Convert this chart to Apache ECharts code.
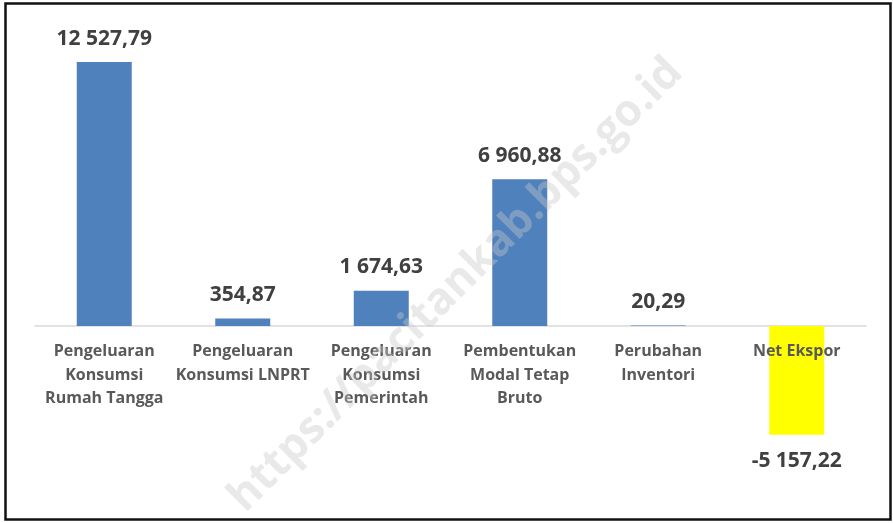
<!DOCTYPE html>
<html>
<head>
<meta charset="utf-8">
<script src="https://cdn.jsdelivr.net/npm/echarts@6/dist/echarts.min.js"></script>
<style>
  html, body { margin: 0; padding: 0; background: #fff; }
  #chart { width: 893px; height: 523px; }
</style>
</head>
<body>
<div id="chart"></div>
<script>
var categories = [
  "Pengeluaran\nKonsumsi\nRumah Tangga",
  "Pengeluaran\nKonsumsi LNPRT",
  "Pengeluaran\nKonsumsi\nPemerintah",
  "Pembentukan\nModal Tetap\nBruto",
  "Perubahan\nInventori",
  "Net Ekspor"
];
var values = [12527.79, 354.87, 1674.63, 6960.88, 20.29, -5157.22];
var barColors = ["#4f81bd", "#4f81bd", "#4f81bd", "#4f81bd", "#4f81bd", "#ffff00"];

// 12 527,79 style
function fmt(v) {
  var neg = v < 0;
  var parts = Math.abs(v).toFixed(2).split(".");
  var intPart = parts[0].replace(/\B(?=(\d{3})+(?!\d))/g, " ");
  return (neg ? "-" : "") + intPart + "," + parts[1];
}

var myChart = echarts.init(document.getElementById("chart"));
var font = "'Open Sans', 'Liberation Sans', sans-serif";

var option = {
  animation: false,
  grid: [
    { left: 35, right: 27, top: 31, bottom: 70.6, outerBoundsMode: "none" },
    // label grid: its bottom edge sits on the zero line
    { left: 35, right: 27, top: 31, bottom: 197, outerBoundsMode: "none" }
  ],
  xAxis: [
    {
      type: "category",
      data: categories,
      axisLine: { onZero: true, lineStyle: { color: "#d9d9d9", width: 1.5 } },
      axisTick: { show: false },
      axisLabel: { show: false }
    },
    {
      type: "category",
      gridIndex: 1,
      data: categories,
      z: 5,
      axisLine: { show: false },
      axisTick: { show: false },
      axisLabel: {
        interval: 0,
        margin: 14,
        color: "#595959",
        fontFamily: font,
        fontWeight: "bold",
        fontSize: 16,
        lineHeight: 23.5
      }
    }
  ],
  yAxis: [
    { type: "value", min: -6000, max: 14000, show: false },
    { type: "value", gridIndex: 1, min: 0, max: 1, show: false }
  ],
  series: [
    {
      type: "bar",
      barWidth: 55,
      data: values.map(function (v, i) {
        return {
          value: v,
          itemStyle: { color: barColors[i] },
          label: { position: v < 0 ? "bottom" : "top", distance: v < 0 ? 16 : 13 }
        };
      }),
      label: {
        show: true,
        color: "#404040",
        fontFamily: font,
        fontWeight: "bold",
        fontSize: 21,
        formatter: function (p) { return fmt(p.value); }
      }
    }
  ],
  graphic: [
    {
      type: "text",
      x: 456,
      y: 285,
      rotation: Math.PI / 4,
      z: 100,
      style: {
        text: "https://pacitankab.bps.go.id",
        fill: "rgba(200,200,200,0.4)",
        font: "bold 44px 'Open Sans', 'Liberation Sans', sans-serif",
        align: "center",
        verticalAlign: "middle"
      }
    },
    {
      type: "rect",
      z: 100,
      shape: { x: 5.5, y: 3.5, width: 885, height: 516 },
      style: { fill: "none", stroke: "#111", lineWidth: 2.5 }
    }
  ]
};

option && myChart.setOption(option);
</script>
</body>
</html>
